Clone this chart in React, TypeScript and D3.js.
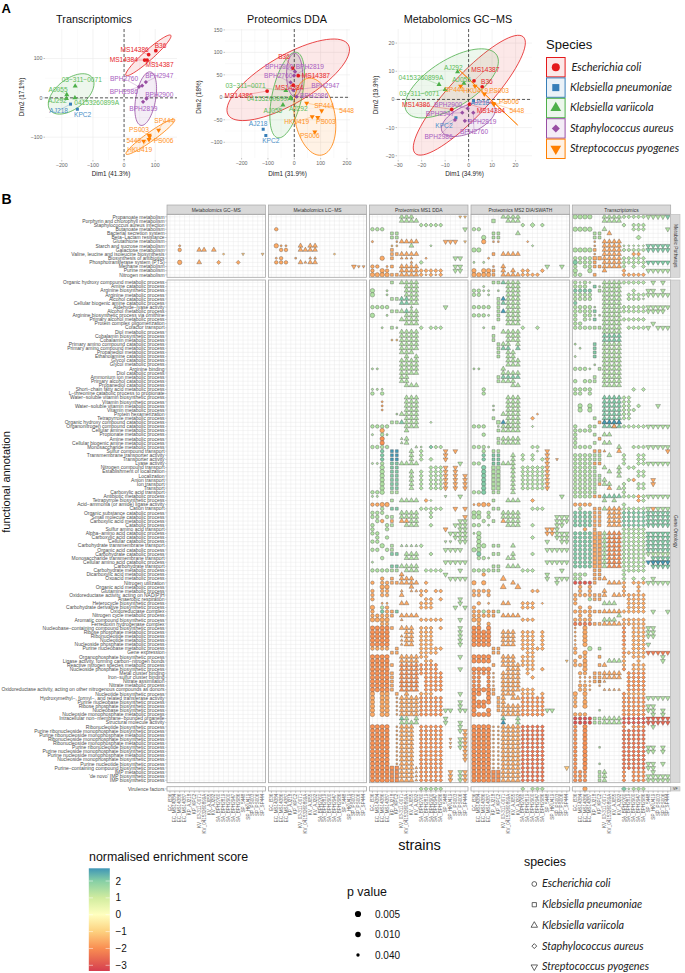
import React from "react";
import * as d3 from "d3";

const strains = ["EC_B36","EC_MS14384","EC_MS14386","EC_MS14387","KP_AJ218","KP_KPC2","KV_03-311-0071","KV_04153260899A","KV_AJ055","KV_AJ292","SA_BPH2760","SA_BPH2819","SA_BPH2900","SA_BPH2947","SA_BPH2986","SP_5448","SP_HKU419","SP_PS003","SP_PS006","SP_SP444"];
const speciesNames = ["Escherichia coli","Klebsiella pneumoniae","Klebsiella variicola","Staphylococcus aureus","Streptococcus pyogenes"];
const speciesColors = ["#e41a1c","#377eb8","#4daf4a","#984ea3","#ff7f00"];
const labelColors = ["#e8262a","#4a8fc8","#5dbb5a","#a85cc0","#ff9326"];
const panelNames = ["Metabolomics GC\u2212MS","Metabolomics LC\u2212MS","Proteomics MS1 DDA","Proteomics MS2 DIA/SWATH","Transcriptomics"];
const pathwayRows = ["Propanoate metabolism","Porphyrin and chlorophyll metabolism","Staphylococcus aureus infection","Butanoate metabolism","Bacterial secretion system","Beta\u2212Lactam resistance","Glutathione metabolism","Starch and sucrose metabolism","Galactose metabolism","Valine, leucine and isoleucine biosynthesis","Biosynthesis of antibiotics","Phosphotransferase system (PTS)","Methane metabolism","Purine metabolism","Nitrogen metabolism"];
const goRows = ["Organic hydroxy compound metabolic process","Amine catabolic process","Arginine biosynthetic process","Arginine metabolic process","Alcohol catabolic process","Cellular biogenic amine catabolic process","Aldehyde\u2212lyase activity","Alcohol metabolic process","Arginine biosynthetic process via ornithine","Primary alcohol metabolic process","Protein complex oligomerization","Cofactor transport","Diol metabolic process","Cobalamin biosynthetic process","Cobalamin metabolic process","Primary amino compound catabolic process","Primary amino compound metabolic process","Propanediol metabolic process","Ethanolamine catabolic process","Glycol catabolic process","Glycol metabolic process","Arginine binding","Diol catabolic process","Ammonium ion metabolic process","Primary alcohol catabolic process","Propanediol catabolic process","Short\u2212chain fatty acid metabolic process","L\u2212threonine catabolic process to propionate","Water\u2212soluble vitamin biosynthetic process","Vitamin biosynthetic process","Water\u2212soluble vitamin metabolic process","Vitamin metabolic process","Protein hexamerization","Tetrapyrrole metabolic process","Organic hydroxy compound catabolic process","Organonitrogen compound catabolic process","Cellular amine metabolic process","Propionate metabolic process","Amine metabolic process","Cellular biogenic amine metabolic process","Monosaccharide metabolic process","Sulfur compound transport","Transmembrane transporter activity","Transporter activity","Lyase activity","Nitrogen compound transport","Establishment of localization","Localization","Anion transport","Ion transport","Transport","Carboxylic acid transport","Antibiotic metabolic process","Tetrapyrrole biosynthetic process","Acid\u2212ammonia (or amide) ligase activity","Cation transport","Organic substance catabolic process","Small molecule catabolic process","Carboxylic acid metabolic process","Catabolic process","Sulfur amino acid transport","Alpha\u2212amino acid catabolic process","Carboxylic acid catabolic process","Cellular catabolic process","Carbohydrate transmembrane transport","Organic acid catabolic process","Carbohydrate catabolic process","Monosaccharide transmembrane transport","Cellular amino acid catabolic process","Carbohydrate transport","Carbohydrate metabolic process","Dicarboxylic acid metabolic process","Oxoacid metabolic process","Nitrogen utilization","Organic acid metabolic process","Glutamine metabolic process","Oxidoreductase activity, acting on NAD(P)H","Anaerobic respiration","Heterocycle biosynthetic process","Carbohydrate derivative biosynthetic process","Oxidoreductase complex","Nitrogen cycle metabolic process","Aromatic compound biosynthetic process","Ferredoxin hydrogenase complex","Nucleobase\u2212containing compound biosynthetic process","Ribose phosphate metabolic process","Ribonucleotide metabolic process","Nucleotide metabolic process","Nucleoside phosphate metabolic process","Purine nucleobase metabolic process","Gene expression","Organophosphate biosynthetic process","Ligase activity, forming carbon\u2212nitrogen bonds","Reactive nitrogen species metabolic process","Nucleoside phosphate biosynthetic process","Metal cluster binding","Iron\u2212sulfur cluster binding","Nitrate assimilation","Nitrate metabolic process","Oxidoreductase activity, acting on other nitrogenous compounds as donors","Nucleotide biosynthetic process","Hydroxymethyl\u2212, formyl\u2212, and related transferase activity","Purine nucleobase biosynthetic process","Ribose phosphate biosynthetic process","Nucleobase biosynthetic process","Nucleoside monophosphate metabolic process","Intracellular non\u2212membrane\u2212bounded organelle","Structural molecule activity","Ribonucleotide biosynthetic process","Purine ribonucleoside monophosphate biosynthetic process","Purine ribonucleoside monophosphate metabolic process","Ribonucleoside monophosphate biosynthetic process","Ribonucleoside monophosphate metabolic process","Purine ribonucleotide biosynthetic process","Purine nucleoside monophosphate biosynthetic process","Purine nucleoside monophosphate metabolic process","Nucleoside monophosphate biosynthetic process","Purine nucleotide biosynthetic process","Purine\u2212containing compound biosynthetic process","IMP metabolic process","'de novo' IMP biosynthetic process","IMP biosynthetic process"];

// PCA scores: [strain label, species index, dim1, dim2, label dim1, label dim2]
type Pt = [string, number, number, number, number, number];
const pcaTranscript: Pt[] = [
["B36",0,102,120,117,132],["MS14386",0,79,110,34,123],["MS14384",0,66,96,-1,97],["MS14387",0,74,96,114,83],
["AJ218",1,-172,-16,-210,-32],["KPC2",1,-150,-29,-133,-43],
["03\u2212311\u22120071",2,-157,30,-136,45],["A0055",2,-184,8,-212,21],["AJ292",2,-185,-2,-214,-6],["04153260899A",2,-158,0,-88,-12],
["BPH2760",3,48,28,0,49],["BPH2986",3,58,31,-1,15],["BPH2947",3,70,40,113,57],["BPH2900",3,72,-2,113,8],["BPH2819",3,61,-10,62,-27],
["SP444",4,111,-82,129,-58],["PS003",4,81,-95,48,-82],["5448",4,63,-110,31,-108],["PS006",4,80,-106,127,-108],["HKU419",4,82,-99,50,-133]];
const pcaProteomics: Pt[] = [
["B36",0,-6,65,-39,91],["MS14387",0,15,48,82,47],["MS14384",0,-4,27,-19,22],["MS14386",0,-103,14,-211,3],
["AJ218",1,-118,-71,-137,-59],["KPC2",1,-108,-85,-89,-97],
["03\u2212311\u22120071",2,-32,15,-185,25],["04153260899A",2,-13,-3,-95,-3],["AJ055",2,-43,-17,-81,-30],["AJ292",2,-13,-1,15,-25],
["BPH2900",3,3,57,-58,69],["BPH2819",3,-1,48,59,69],["BPH2760",3,-14,33,-61,47],["BPH2947",3,-4,16,118,25],["BPH2986",3,9,1.5,75,3],
["SP444",4,104,-30,113,-19],["5448",4,47,-13,199,-30],["HKU419",4,68,-43,9,-55],["PS003",4,89,-45,120,-55],["PS006",4,78,-77,59,-85]];
const pcaMetabolomics: Pt[] = [
["MS14387",0,2.3,6.6,7.1,10.5],["B36",0,5.8,4.5,7.8,6.3],["MS14386",0,-7.2,-3.5,-22.4,-1.7],["MS14384",0,0.4,-1.7,9.5,-4.1],
["AJ218",1,2.1,-0.5,4.8,-1.1],["KPC2",1,-5.4,-6.5,-10.5,-9.2],
["AJ292",2,-4.7,9.8,-6.5,11.3],["04153260899A",2,-12.6,5.3,-20.3,7.8],["AJ055",2,-2,5.7,-3,7.1],["03\u2212311\u22120071",2,-10,3.5,-21,2],
["BPH2900",3,-0.4,-3.2,-8.7,-1.7],["BPH2947",3,-2.7,-4.7,-12.2,-5],["BPH2819",3,-1.6,-7.6,5.8,-7.8],["BPH2760",3,2,-4.7,2.3,-11.3],["BPH2986",3,-5.8,-7.3,-12.8,-13.1],
["SP444",4,-3.4,4.7,-6.1,3.5],["HKU419",4,2.7,4.7,3,3],["PS003",4,6.7,1.9,13,3],["PS006",4,10.8,-1.7,17.2,-0.7],["5448",4,10.5,-1.4,20.5,-4.1]];

// Ellipses: species, centre, major-axis end, minor-axis end (data units)
type El = [number, number, number, number, number, number, number];
const ellTranscript: El[] = [[0,78,108,150,159,89,99],[2,-170,10,-103,52,-140,-19.5],[3,69.5,-2,84.5,66,101,-6],[4,84.5,-99,162.6,-55,93,-108]];
const ellProteomics: El[] = [[0,-23,39,205,117,23,-7.4],[2,-27,5,9,100,28,-2],[3,1.3,50,1,98,32,50],[4,78,-43,116,-126,148,-21]];
const ellMetabolomics: El[] = [[0,0.3,1.5,23.3,22.2,6.7,-3.4],[2,-7.2,5.7,12,15.7,-2,-1.4],[3,-0.1,-7,11.2,-2.8,2,-11.5],[4,8.4,0.7,20.9,-9.1,9.4,-0.1]];

const xTicksT = [-200,-100,0,100]; const yTicksT = [-100,0,100];
const xTicksP = [-200,-100,0,100,200]; const yTicksP = [-100,-50,0,50,100,150];
const xTicksM = [-30,-20,-10,0,10,20]; const yTicksM = [-20,-10,0,10,20];

// Enrichment: [row from, row to, column list, normalised enrichment score, size class 1 big..3 small]
type Bl = [number, number, string, number, number?];
const G = 1.45, T = 2.05, B = 2.7, O = -1.6, D = -1.95, R = -2.9, P = -1.2;

const mpGC: Bl[] = [[7,7,"2",O,3],[8,8,"2",O],[8,8,"6,7,9",O],[9,9,"11,15,19",P,3],[11,11,"2",O,1],[11,11,"6,10,14",O]];
const mpLC: Bl[] = [[3,3,"1",O],[7,7,"1",O,1],[7,7,"2,3",O,3],[7,7,"6,8,9",O],[8,8,"2,3",O],[8,8,"6-9",O],[9,9,"13",P,3],[10,10,"1,5,8,9",O,3],[10,10,"2",O],[11,11,"1-3,6,8,9",O],[11,11,"7",O,3],[12,12,"17",O],[12,12,"18,19",O,3]];
const mpMS1: Bl[] = [[0,0,"6-8",G],[0,0,"18,19",P,3],[1,1,"6-9",G],[2,2,"10-14",G],[3,3,"0-2,19",G],[4,5,"4,5",G],
[6,6,"0,5",O,3],[6,6,"6-9",O],[6,6,"15-17",O],[6,6,"19",P,3],[7,7,"4,5",P,3],[7,7,"8",G],[7,7,"12",G,3],[8,8,"4",O],[9,9,"4,5",O],[9,9,"6-9",O],
[10,10,"2",O,1],[10,10,"4",O],[10,10,"6-8,11",O,3],[10,10,"17,18",G],[11,11,"8",O,3],[11,11,"10",G],[12,12,"0,1,4",O],[12,12,"3",O,3],[12,12,"6-9",O],[12,12,"17,18",G],
[13,13,"0,3",O],[13,13,"2",O,1],[13,13,"6-9",O],[13,13,"10-14",O],[13,13,"17,18",G],[14,14,"0-3",O,1],[14,14,"4,5",O],[14,14,"6-9",O],[14,14,"10,12,14",O],[14,14,"11,13",O,3]];
const mpMS2: Bl[] = [[0,0,"6-9",G],[1,1,"4",G,1],[1,1,"7-9",G],[2,2,"10,14",G],[2,2,"12",G,1],[3,3,"0,1",G],[4,4,"4,5,9",G],[5,5,"2",G,1],[5,5,"4,5",G],[6,6,"2",O,1],[6,6,"4,5",O,3],[6,6,"11",O,3],[7,7,"12",G,3],[8,8,"0,1",G,1],
[9,9,"4",O],[9,9,"6-9",O],[10,10,"3",O,3],[11,11,"0,2",G,3],[12,12,"4",O,3],[12,12,"6",O],[12,12,"15,18",G],[13,13,"0,2,3",O,1],[13,13,"4,6,8",O],[13,13,"10,11,14",O],[14,14,"0-3",O,1],[14,14,"4",O],[14,14,"6-9",O],[14,14,"10-13",O]];
const mpTR: Bl[] = [[0,0,"0-3",G,1],[0,0,"6-9",G],[0,0,"10-14",G],[0,0,"15-18",G],[0,0,"19",T],[1,1,"6-9",G],[2,2,"10,12-14",G],[3,3,"0-3",G,1],[3,3,"6",G],[3,3,"12-14",G],[3,3,"19",G],
[4,4,"4,5",G],[4,4,"7",O],[5,5,"4,5",G],[5,5,"13",G,1],[6,6,"4",O,3],[6,6,"6-9",O],[7,7,"4",O,3],[7,7,"6-9",O],[7,7,"10-14",G,3],[7,7,"15-19",T],
[8,8,"0-3",G,1],[8,8,"4",O],[8,8,"6-9",O],[8,8,"10-14",G],[8,8,"15-19",T],[9,9,"4",O,3],[9,9,"6-9",O],[9,9,"12,13",O],[10,10,"0-3",G],[10,10,"4,5",O,1],[10,10,"6-9",O],[10,10,"10-14",G],
[11,11,"0",T,1],[11,11,"1-3",G],[11,11,"4",O],[11,11,"6-9",O],[11,11,"10-14",G],[11,11,"15-19",T],[12,12,"0,2,3",G],[12,12,"4,5",O],[12,12,"6-9",O],[12,12,"10,12,14",G],
[13,13,"0,3",G,1],[13,13,"6",O],[13,13,"10",O],[13,13,"15-19",G],[14,14,"0,1",G],[14,14,"4",O],[14,14,"10-14",O]];

const goMS1: Bl[] = [[0,0,"4,6-9",G],[1,3,"7-9",G],[2,3,"0",G,1],[2,3,"3",G,3],[4,4,"4,5",G],[4,5,"6,7",T],[4,5,"8,9",G],[6,6,"0-3",G],[6,6,"8",G,3],[6,6,"15",G],
[7,7,"4,5",G],[7,7,"6,8,9",G],[7,7,"7",T],[8,8,"0",G,1],[8,8,"3",G,3],[8,8,"7-9",G],[9,9,"6-9",G],[10,10,"7-9",G],[11,11,"2,5",G,3],[11,11,"4,10,12-14",G],
[12,16,"6-9",G],[14,14,"4,5",P,3],[17,17,"6-8",G],[18,18,"7,9",G],[19,20,"6-9",G],[21,21,"0,1",G,3],[21,22,"6-9",G],[23,24,"6,7",G],[25,25,"7-9",G],[26,26,"0-2",G,3],
[27,27,"0,2",G],[28,35,"7-9",G],[29,31,"2",O,3],[32,32,"5",G,3],[32,32,"6",G],[34,34,"4,5",G],[34,34,"6",T],[34,34,"12",G,3],[35,35,"0,1,3",G],[35,35,"2",G],[36,36,"2",O,1],[36,36,"7",G],[37,37,"0,3",G,3],[37,37,"2",G],[38,39,"2",D,1],[38,39,"6",G,3],[38,39,"7",G],
[40,40,"0-3",G],[40,40,"9,10",G,3],[40,40,"12",T],[40,40,"13,14",G],[41,41,"2",T],[41,43,"4,5",B],[41,43,"8,10",G],[41,41,"15,17",O],[42,43,"2",T],[42,43,"15",O],[43,43,"12",G],
[44,44,"0,1",G,3],[44,44,"2",G],[44,44,"4,5",T],[44,44,"6-9",G],[44,44,"18",G],[45,51,"2",G,1],[45,50,"4,5",T],[45,50,"12-14",G],[45,50,"15,17",O],[46,50,"8",G],[46,50,"10",G],[47,50,"19",O],[51,51,"0,1",G],[51,51,"4,5",G],
[52,52,"0,1",G,3],[52,52,"15",G,3],[52,52,"18",G],[53,53,"4",G],[53,53,"6-9",G],[53,53,"11",O],[53,53,"12",G,3],[54,54,"0,1",O],[54,54,"2,3",O,1],[55,55,"2",G],[55,55,"4,5",T],[55,55,"10-14",G],[55,55,"17,19",O],
[56,56,"0,1,2",G],[56,56,"6-9",G],[56,56,"12",G],[57,57,"0,1,3,4",G],[57,57,"6-9",G],[57,57,"12",G],[57,57,"19",O],[58,58,"1",G],[58,58,"2",O],[58,58,"4",O],[58,58,"6,7",O],[58,58,"8,9",G],[58,58,"18,19",G],
[59,59,"0,3,4",G],[59,59,"7-9",G],[59,59,"12",G],[59,59,"17-19",G],[60,60,"0,3",G],[60,60,"15",O],[60,60,"18,19",G],[61,61,"0,1",G],[61,61,"16-19",G],[62,62,"1,3",G],[62,62,"17-19",G],[63,63,"0,1",G],[63,63,"15,16",G,3],[63,63,"18,19",G],
[64,64,"2",G,1],[64,64,"4",G],[64,64,"6-9",G,3],[64,64,"10",G],[65,65,"0,1,3,4",G],[65,65,"15-18",G],[66,66,"4,5",T],[66,66,"7-9",G],[66,66,"12",G],[67,67,"2",G],[67,67,"7-9",G],[68,68,"0",G,3],[68,68,"15-19",G],[69,69,"4,5",T],[69,69,"6-9",G],
[70,70,"0-3",G],[70,70,"4,5",G],[70,70,"7-9",G],[70,70,"11-14",G],[70,70,"18",G],[71,71,"6",O],[71,71,"15",G],[72,72,"2",O],[72,72,"4",O],[72,72,"6-8",O],[72,72,"16-19",G],[73,73,"0,2,3",O],[73,73,"4,5",O],[73,73,"6-9",O],[73,73,"11",O],[74,74,"2,3",O,1],[74,74,"8",O],
[75,75,"0,2,3",O],[75,75,"6,8,9",O,3],[75,75,"10,11,13,14",O],[76,76,"0,2,3",O],[76,76,"6",O],[76,76,"10",O],[77,77,"0",O],[77,77,"11,12,14",O],[77,77,"18",G],[78,78,"2,3",O,3],[78,78,"6,7",O],[78,78,"10-12",O],[78,78,"18",G],[79,79,"0",O,1],[79,79,"2",G],[79,79,"3",O],[79,79,"10-12",O],[79,79,"17,19",G],
[80,80,"0,3",O],[80,80,"2",T],[80,80,"4",O],[80,80,"5",T],[81,81,"0-3",O],[81,81,"4",O],[81,81,"6-9",O],[82,82,"0-3",O,1],[82,82,"6",O,3],[82,82,"10-14",O],[82,82,"18",G],[83,83,"2,3",O],[84,84,"0-3",D,1],[84,84,"4",O],[84,84,"6-8",O],[84,84,"10-12,14",O],[84,84,"18",G],
[85,88,"0-3",D,1],[85,88,"7,8",O],[85,88,"10-12",O],[85,88,"18",G],[86,88,"6",O,3],[89,89,"0-3",O],[89,89,"5",O],[89,89,"10-14",O],[90,90,"4,5",O],[90,90,"10-13",O],[91,94,"0-3",D,1],[91,92,"6-9",O],[91,91,"10,11",O],[91,91,"18",G],[92,92,"11,12",O],[93,94,"6-9",D],[93,94,"10-13",D],[93,93,"4",O],[94,94,"18",G],
[95,99,"0-3",D,1],[95,99,"4",O],[95,99,"6-9",D],[95,99,"11-14",D],[95,95,"10",D],[100,100,"0,2,3",O,1],[100,100,"5",O],[100,100,"7",O],[100,100,"10-12",O],[100,100,"18",G],[101,105,"0,2,3",O,1],[101,105,"5",O,3],[101,105,"6-9",O],[101,105,"10-14",D],[102,103,"18",G],[104,104,"15,16",G],[104,104,"18,19",G],
[106,106,"6",T],[106,106,"7,9",G],[106,106,"15",G],[107,107,"6,7,9",G],[107,107,"8",G],[107,107,"15,18",G],
[108,121,"0-3",D,1],[108,121,"5",O,3],[108,121,"6-8",O],[108,121,"10-14",D],[108,109,"18",G],[109,116,"19",O],[111,113,"16",O,3],[111,113,"18",G],[118,121,"4,5",D,1],[118,121,"9",O,3],[119,121,"16",O],[119,121,"18",G],[119,121,"19",O]];

const goMS2: Bl[] = [[0,0,"4,5",G],[0,0,"6",T],[0,0,"7-9",G],[1,1,"2",G,3],[1,3,"7-9",G],[2,3,"0,1",G],[2,2,"2,3,5",G,3],[3,3,"3",G,3],[4,5,"5",G],[4,4,"6",B],[5,5,"6",T],[4,5,"7-9",G],[6,6,"0-3",G],[6,6,"5",G],[6,6,"7-9",G],[7,7,"5",G],[7,7,"6",B],[7,7,"7-9",G],
[8,8,"0-2",G],[8,8,"3",G,3],[8,8,"5",G],[8,8,"7-9",G],[9,9,"5",G],[9,9,"7-9",G],[10,10,"7-9",G],[11,11,"2",G,3],[11,11,"4,10,13",G],[12,12,"6-9",G],[13,14,"4",G],[13,14,"7-9",G],[15,15,"5",G],[15,15,"6,7,9",G],[16,16,"5",G],[16,16,"6,7,9",T],[17,18,"5",G],[17,18,"7,8",G],[19,20,"7-9",G],[21,21,"0,1",G,3],[21,21,"6",G],[22,22,"6-9",G],[23,23,"5",G],[23,23,"6-9",T],[24,24,"5",G],[24,24,"6-8",G],[25,25,"8,9",G],[26,27,"2",G],
[28,35,"7-9",G],[30,31,"4",G,3],[32,32,"6",G],[32,32,"13",O,3],[33,33,"4",G],[33,33,"12",O],[34,34,"5",G,1],[34,34,"6",B],[35,35,"0-2",G],[35,35,"5",G,3],[35,35,"6,7",G],[35,35,"12",G,3],[36,36,"5",G],[36,36,"6-9",G],[37,37,"2",G],[38,39,"5",G],[38,39,"6-9",G],
[40,40,"0-2",G],[40,40,"3",G,3],[40,40,"12,13",G],[41,41,"2",G],[41,41,"4,5",G],[41,41,"13",G,3],[41,41,"15",O],[42,43,"2",T],[42,43,"4,5",T],[42,43,"8,10,12",G],[42,43,"15",O],[43,43,"14",G],[43,43,"17",O,3],[44,44,"0,1",G],[44,44,"4,5",T],[44,44,"6,7,8",G],[44,44,"15",O],[45,50,"2",T,1],[45,50,"4,5",G,1],[45,50,"8",G],[45,50,"10-14",G],[45,50,"15",O],[51,51,"0,1",G],[51,51,"2",T,1],[51,51,"4,5",G],[51,51,"8",G],
[52,52,"18",G],[53,53,"4",G],[53,53,"7-9",G],[53,53,"12",O],[54,54,"0",O,3],[54,54,"1",O],[54,54,"2",O,1],[54,54,"3",O],[55,55,"4,5",G],[55,55,"12-14",G],[56,56,"0,1",G,1],[56,56,"3",G],[56,56,"6-9",G],[57,57,"0,1",G,1],[57,57,"3",G],[57,57,"6-9",G],[57,57,"17-19",G],[58,58,"2",G],[58,58,"4",G],[58,58,"6",O],[58,58,"7-9",G],[58,58,"17-19",G],[59,59,"0,1",G],[59,59,"3",G,3],[59,59,"7-9",G],[59,59,"12",G],[59,59,"17,18",G],
[60,60,"15,16",O],[60,60,"17",G],[61,61,"0",G,3],[61,61,"1",G,1],[61,61,"15,16",O],[61,61,"17-19",G],[62,62,"1",G,1],[62,62,"12",G],[62,62,"17-19",G],[63,63,"1",G,1],[63,63,"15",G],[63,63,"18,19",G],[64,64,"1,2",G,1],[64,64,"4,5",G],[64,64,"8",G],[65,65,"0,1",G,1],[65,65,"15-19",G],[66,66,"1",T,1],[66,66,"4,5",G],[66,66,"8",G],[66,66,"12",G],[67,67,"1,2",G],[67,67,"3",G,3],[67,67,"7,8",G],[68,68,"15-19",G],[69,69,"4,5",G],[69,69,"7-9",G],
[70,70,"0-3",G],[70,70,"4,5",G],[70,70,"10-12",G],[70,70,"18",G],[71,71,"2",O],[71,71,"15",G],[72,72,"6",O,1],[72,72,"15",G],[72,72,"17-19",G],[73,73,"0,2",O,1],[73,73,"8",O],[73,73,"17",G],[74,74,"6,9",O,1],
[75,75,"0-3",O],[75,75,"12,13",O],[76,76,"0,1,3",O],[78,78,"1",O],[78,78,"3",O,3],[78,78,"6,7",O],[78,78,"10-12",O],[78,78,"14",O,3],[79,79,"0",O],[79,79,"10-12",O],[80,80,"0,1,3",O],[80,80,"2",G],[80,80,"4",O],[80,80,"5",G],[81,81,"0-3",O],[81,81,"4",O],[81,81,"6-9",O],[82,82,"0,1",O,1],[82,82,"10-12",O],[83,83,"1,3",O],
[84,84,"0,1,3",D,1],[85,88,"0-3",D,1],[85,88,"6-8",O],[85,88,"10-12",O],[85,88,"14",O],[89,89,"4,5",O],[89,89,"10-14",O],[90,90,"4,5",O],[90,90,"11,12",O],[91,92,"0-3",D,1],[91,92,"6-8",O],[91,92,"10-12",O],[92,92,"19",P,3],[93,93,"4",O],[93,93,"6-9",O],[93,93,"10-12",O],[94,94,"0-3",D,1],[94,94,"7-9",O],[94,94,"11,12",O],[94,94,"14",O],
[95,95,"0-3",D],[95,95,"4",O,3],[95,95,"6-9",O],[95,95,"11",O],[96,96,"0,1,3",D],[96,96,"4",O,3],[96,96,"6-9",O],[96,96,"12",O],[97,98,"0,1,3",D],[97,98,"4",O,3],[97,98,"6-9",O],[99,99,"0-3",D,1],[99,99,"4",O],[99,99,"6-9",O],[99,99,"10-12",O],[100,100,"0,1,3",D,1],[100,100,"4",O],[100,100,"6-8",O],[100,100,"10-12",O],[100,100,"14",O],
[101,101,"0,3",D,1],[101,101,"5",O],[101,101,"6,8,9",O],[101,101,"10-14",D],[102,102,"0-3",D,1],[102,102,"5",O],[102,102,"6",O],[102,102,"10-14",D],[103,103,"0-2",D,1],[103,103,"5",O],[103,103,"6-9",O],[103,103,"10-14",D],[104,104,"0,3",D,1],[104,104,"5",O],[104,104,"6-9",O],[104,104,"10-14",D],[104,104,"15,16",G],[105,105,"0-3",D,1],[105,105,"6-9",O],[105,105,"10-14",D],
[106,106,"6",T],[106,106,"9",G],[107,107,"6",B],[107,107,"9",G],
[108,121,"0-3",D,1],[108,118,"4,5",O,3],[108,121,"6-9",O],[108,121,"10-14",-2.4],[118,118,"19",P],[119,121,"4,5",D,1]];

const goTR: Bl[] = [[0,0,"0,2",G],[0,0,"1,3",G,3],[0,0,"6-9",G],[0,0,"10-14",G],[0,0,"16,18",G],[1,1,"0-2",G],[1,1,"4",T],[1,1,"5",G,3],[1,3,"6-9",G],[2,2,"0-3",T],[2,2,"5",G],[2,2,"12",G],[2,2,"15,16,18",G],[3,3,"0-3",G],[3,3,"11-14",G],[3,3,"15-19",G],[4,4,"0-3",G],[4,4,"6-9",G],[4,4,"11-13",G],[4,4,"14",G,3],[5,5,"0",T],[5,5,"6-9",G],
[6,6,"0-3",G],[6,6,"4",G,3],[6,7,"6-9",G],[6,7,"10-14",G],[6,6,"15-19",G],[7,7,"0-3",G],[7,7,"4",T],[7,7,"15-18",G],[8,8,"0,2,3",G],[8,8,"4,5",G,3],[8,9,"6-9",G],[9,9,"0,2",G],[9,9,"3",G,3],[9,9,"4",T],[9,9,"10-14",G],[10,10,"0,1",G],[10,10,"6-9",G],[10,10,"16",G],[11,11,"0-3",G],[11,11,"4,5",G],[11,11,"6-9",G],[11,11,"11-14",G],[11,11,"15",G],[11,11,"17-19",G],
[12,12,"6-9",G],[13,14,"6-9",T],[15,15,"0",G,3],[15,16,"4",T],[15,20,"6-9",G],[16,16,"1",G,3],[17,17,"4",T],[18,18,"0",G,3],[18,18,"4",T],[20,20,"4",G,3],[21,21,"0-2",G],[21,21,"3",G,3],[21,21,"5",G],[21,25,"6-9",G],[23,23,"4",G],[24,24,"0,2,3",G],[24,24,"4",G],[26,26,"0-3",G],[26,26,"12,14",G],[27,27,"0,1,3",G],
[28,35,"6-9",T],[28,33,"10,11",G],[30,31,"1,3",G,1],[30,30,"13",G],[30,30,"17",G],[31,31,"12",G],[33,33,"4",G],[34,34,"5",O],[34,34,"6-9",B],[35,35,"0,3,4",G],[35,35,"8",O],[35,35,"10-14",G],[35,35,"15-19",G],[36,36,"0-3",G],[37,37,"0,4",G],[37,37,"6,7",G],[38,38,"0",G],[38,38,"5",O],[39,39,"0,4",G],[39,39,"6,7",G],
[40,40,"0-3",G],[40,40,"9",G],[40,40,"12-14",G],[40,40,"15-19",G],[41,41,"4,5",O],[41,41,"6",O,3],[41,41,"9",O],[41,41,"19",O],[42,43,"0-3",G],[42,43,"4,5",G],[42,42,"7",G],[42,44,"10",G],[42,44,"13,14",G],[44,44,"0-3",G],[44,44,"4,5",O],[44,44,"15-19",G],[45,47,"0-3",G],[45,45,"4",G],[45,45,"6",G],[45,47,"9",G],[45,45,"11,12",G],[46,46,"4",G],[46,46,"7",G],[46,47,"13,14",G],[47,47,"4,5",G],
[48,48,"0-3",G],[48,48,"4,5",G],[48,49,"6",G],[48,48,"11",G],[48,48,"12",O],[48,48,"16",O],[49,50,"0-3",G],[49,50,"4",G],[49,49,"5",O],[49,49,"7",G],[49,49,"10",G],[49,50,"13,14",G],[49,49,"16",O],[50,50,"7",O],[50,50,"9,10",G],[51,51,"0-3",G],[51,51,"4",G],[51,51,"10",G],[52,52,"0-3",G],[52,52,"4,5",O],[52,52,"6-9",T],[52,52,"10-12,14",G],[52,52,"13",O],[52,52,"15-19",G],
[53,53,"6,8",G],[53,53,"13",O],[53,53,"14",G],[54,54,"0-3",O],[54,54,"10",G],[55,55,"1",G],[55,55,"4,5",O],[55,55,"6",G],[55,55,"7-9",O],[55,55,"10-14",G],[55,55,"16",O],[55,55,"15,17-19",G],
[56,59,"0-3",T],[56,59,"4,5",O],[56,59,"7-9",O],[56,59,"10-14",T],[56,59,"15-19",T],[60,60,"2",O],[60,60,"4",O],[60,60,"10-14",G],[61,69,"0-3",T],[61,69,"4,5",O,1],[61,69,"6",G],[61,69,"7-9",D],[61,69,"10-14",G],[61,65,"15-19",T],[66,66,"15-19",G],[67,69,"16-19",T],[68,68,"15-19",B],[70,70,"4,5",O],[70,70,"10-14",G],
[71,71,"0-2",G],[71,71,"4,5",O],[71,71,"10",G],[72,72,"0,1",G],[72,72,"4,5",O],[72,72,"6",O],[72,72,"10,12,14,16",G],[73,73,"0-3",R],[73,73,"4",O],[73,73,"7-9",O],[73,73,"10",O],[73,73,"12-14",O],[73,73,"15-19",G],[74,74,"1,3",O],[74,74,"10,13",O],
[75,75,"1,3",O],[75,75,"6",O],[75,75,"10,13",O],[76,76,"0-3",O],[76,76,"4,5",O],[76,76,"6",O],[76,76,"8,9",O],[76,76,"10-14",O],[77,77,"0",O],[77,77,"3",G],[77,77,"4,5",O],[77,79,"11-14",O],[78,78,"0",O],[78,78,"6-8",G],[79,79,"1,3",O],[80,80,"0-3",O],[80,80,"4,5",O],[80,80,"6-9",O],[80,80,"10-14",O],[80,80,"16,19",G],[81,81,"1,3",O],[81,81,"9",G],[82,82,"0-3",O],[82,82,"6-8",G],[82,82,"10-14",O],
[83,83,"0-3",-2.3],[83,83,"4,5",O],[83,83,"6,7",O],[83,83,"8,9",O],[83,83,"10-14",O],[84,88,"0",O,3],[84,88,"2",O,1],[84,88,"10",D],[84,88,"12-14",O],[84,86,"15,16",G],[88,88,"15",G],[89,89,"0",O],[89,89,"3",G,1],[89,89,"5",G],[89,89,"10",O],[89,89,"12-14",O],[90,90,"0",O],[90,90,"2",O,1],[90,90,"10",D],[90,90,"11-14",O],[90,90,"15-19",-2.3],[91,91,"1,2",O],[91,91,"5",O],[91,91,"10",O],[91,91,"12-14",O],[91,91,"18",G],
[92,92,"0",O],[92,92,"2",O,1],[92,92,"7-9",G],[92,92,"10",O],[92,92,"13",O],[92,92,"18",G],[93,93,"0,1",O],[93,93,"2",O,1],[93,93,"5,6",O],[93,93,"10",O],[93,93,"12-14",O],[94,94,"2",O,1],[94,94,"10",D],[94,94,"12-14",O],[95,95,"1,2",O],[95,95,"4,5",O],[95,95,"6-9",O],[95,99,"11-14",D],[96,97,"1-3",O,3],[96,97,"4,5",O],[96,96,"6-9",O],[97,97,"5,6",O,3],[98,99,"1,2",O],[98,99,"3",O,3],[98,98,"5",O,3],[99,99,"6-9",O,3],
[100,100,"0,2",O,1],[100,100,"10",D],[100,100,"11-14",O],[101,101,"0,2",O],[101,101,"10",D],[101,101,"11-14",D],[101,101,"15-19",G],[102,102,"0",O],[102,102,"2",O,1],[102,102,"10-14",D],[103,103,"0",O],[103,103,"2",O,1],[103,103,"10-14",D],[103,103,"15,16",G],[104,104,"5",G,3],[104,104,"10-14",D],[104,104,"15,16",G],[104,104,"18",G],[105,105,"0-2",O],[105,105,"10-14",D],[105,105,"16,18",G],
[106,107,"0-3",-3],[106,107,"4,5",G],[106,107,"6-9",G],[106,107,"10-14",-2.8],[106,107,"15-19",-2.7],[108,108,"0",D],[108,108,"2",D,1],[108,108,"10",D],[108,108,"12-14",D],[108,108,"16",G],[109,118,"0",D],[109,118,"2",D,1],[109,118,"10",-2.4],[109,118,"11-14",-2.4],[113,113,"5",G,3],[113,114,"15,16",G],[113,114,"18",G],[117,117,"5",G,3],[117,118,"15,16",G],[117,117,"18",G],
[119,119,"0-2",D],[119,119,"5,6",G],[119,119,"10",D],[119,119,"12-14",D],[119,119,"16",G],[120,121,"0-2",D],[120,121,"5,6",G],[120,121,"10",D],[120,121,"12-14",D],[120,121,"15-19",G]];

const vfMS1: Bl[] = [[0,0,"10-14",G]];
const vfMS2: Bl[] = [[0,0,"10,12-14",G]];
const vfTR: Bl[] = [[0,0,"2",O,1],[0,0,"10",T,1],[0,0,"11",G,3],[0,0,"12-14",G]];

const mpData = [mpGC, mpLC, mpMS1, mpMS2, mpTR];
const goData: Bl[][] = [[], [], goMS1, goMS2, goTR];
const vfData: Bl[][] = [[], [], vfMS1, vfMS2, vfTR];

const nesStops = [-3.35,-2,-1,0,1,2,2.75];
const nesColors = ["#d53e4f","#f98e52","#fdd17f","#ffffbf","#d1ec9f","#86cfa5","#3f96b7"];
const nesScale = d3.scaleLinear<string>().domain(nesStops).range(nesColors);
const nesTicks = [2,1,0,-1,-2,-3];
const pLegend = ["0.005","0.010","0.040"];
const sizeArea = [0, 16, 10.5, 3.6];

function shapePath(spec: number, area: number): string {
  const types = [d3.symbolCircle, d3.symbolSquare, d3.symbolTriangle, d3.symbolSquare, d3.symbolTriangle];
  return d3.symbol().type(types[spec]).size(area)() as string;
}
const turn = (sp: number) => (sp === 4 ? " rotate(180)" : sp === 3 ? " rotate(45)" : "");
const speciesOf = (c: number) => (c < 4 ? 0 : c < 6 ? 1 : c < 10 ? 2 : c < 15 ? 3 : 4);
function expand(blocks: Bl[]) {
  const out: { r: number; c: number; nes: number; s: number }[] = [];
  blocks.forEach(([r0, r1, cols, nes, s]) => {
    cols.split(",").forEach((part) => {
      const [a, b] = part.split("-").map(Number);
      for (let c = a; c <= (b ?? a); c++) for (let r = r0; r <= r1; r++) out.push({ r, c, nes, s: s ?? 2 });
    });
  });
  return out;
}
const FONT = "'Liberation Sans', Arial, sans-serif";

function Pca({ title, titleX, pts, ells, xd, xr, yd, yr, xt, yt, xLab, yLab, yLabX, yLabY }: any) {
  const x = d3.scaleLinear().domain(xd).range(xr);
  const y = d3.scaleLinear().domain(yd).range(yr);
  const line = d3.line<[number, number]>().x((d) => x(d[0])).y((d) => y(d[1]));
  const minorOf = (t: number[]) => t.slice(1).map((v, i) => (v + t[i]) / 2);
  const xm = minorOf(xt), ym = minorOf(yt);
  return (
    <g fontFamily={FONT}>
      {xm.map((v: number) => <line key={"xm" + v} x1={x(v)} x2={x(v)} y1={yr[1]} y2={yr[0]} stroke="#f4f4f4" strokeWidth={0.5} />)}
      {ym.map((v: number) => <line key={"ym" + v} y1={y(v)} y2={y(v)} x1={xr[0]} x2={xr[1]} stroke="#f4f4f4" strokeWidth={0.5} />)}
      {xt.map((v: number) => <line key={"xg" + v} x1={x(v)} x2={x(v)} y1={yr[1]} y2={yr[0]} stroke="#ebebeb" strokeWidth={0.6} />)}
      {yt.map((v: number) => <line key={"yg" + v} y1={y(v)} y2={y(v)} x1={xr[0]} x2={xr[1]} stroke="#ebebeb" strokeWidth={0.6} />)}
      {ells.map(([sp, cx, cy, ax, ay, bx, by]: El, i: number) => {
        const coords = d3.range(0, 73).map((k) => {
          const t = (k / 72) * 2 * Math.PI;
          return [cx + (ax - cx) * Math.cos(t) + (bx - cx) * Math.sin(t), cy + (ay - cy) * Math.cos(t) + (by - cy) * Math.sin(t)] as [number, number];
        });
        return <path key={i} d={line(coords) as string} fill={speciesColors[sp]} fillOpacity={0.1} stroke={speciesColors[sp]} strokeWidth={0.8} />;
      })}
      <line x1={x(0)} x2={x(0)} y1={yr[1]} y2={yr[0]} stroke="#333" strokeWidth={0.8} strokeDasharray="3 2" />
      <line y1={y(0)} y2={y(0)} x1={xr[0]} x2={xr[1]} stroke="#333" strokeWidth={0.8} strokeDasharray="3 2" />
      {xt.map((v: number) => (
        <g key={v}>
          <line x1={x(v)} x2={x(v)} y1={yr[0]} y2={yr[0] + 1.5} stroke="#666" strokeWidth={0.4} />
          <text x={x(v)} y={yr[0] + 6.8} fontSize={5.3} fill="#666" textAnchor="middle">{String(v).replace("-", "\u2212")}</text>
        </g>
      ))}
      {yt.map((v: number) => (
        <g key={v}>
          <line y1={y(v)} y2={y(v)} x1={xr[0] - 1.5} x2={xr[0]} stroke="#666" strokeWidth={0.4} />
          <text x={xr[0] - 2.5} y={y(v) + 1.9} fontSize={5.3} fill="#666" textAnchor="end">{String(v).replace("-", "\u2212")}</text>
        </g>
      ))}
      {pts.map(([n, sp, a, b, la, lb]: Pt) => {
        const far = Math.hypot(x(a) - x(la), y(b) - y(lb)) > 9;
        return far ? <line key={"s" + n} x1={x(a)} y1={y(b)} x2={x(la)} y2={y(lb)} stroke={speciesColors[sp]} strokeWidth={0.3} /> : null;
      })}
      {pts.map(([n, sp, a, b]: Pt) => (
        <path key={"p" + n} d={shapePath(sp, sp === 1 ? 9 : sp === 3 ? 9 : 11)} fill={speciesColors[sp]} transform={`translate(${x(a)},${y(b)})${turn(sp)}`} />
      ))}
      {pts.map(([n, sp, , , la, lb]: Pt) => (
        <text key={"l" + n} x={x(la)} y={y(lb) + 2.3} fontSize={6.6} fill={labelColors[sp]} textAnchor="middle">{n}</text>
      ))}
      <text x={titleX} y={22.5} fontSize={10.8} fill="#111" textAnchor="middle">{title}</text>
      <text x={(xr[0] + xr[1]) / 2} y={175.5} fontSize={6.3} fill="#222" textAnchor="middle">{xLab}</text>
      <text transform={`translate(${yLabX},${yLabY}) rotate(-90)`} fontSize={6.3} fill="#222" textAnchor="middle">{yLab}</text>
    </g>
  );
}

const panelX: [number, number][] = [[167,265.5],[268.5,366.5],[369.5,468],[471,569.7],[572.3,670.7]];
const facets = [
  { y0: 214.3, y1: 277.3, rows: pathwayRows, data: mpData, strip: "Metabolic Pathways" },
  { y0: 280, y1: 782.7, rows: goRows, data: goData, strip: "Gene Ontology" },
  { y0: 786.7, y1: 791, rows: ["Virulence factors"], data: vfData, strip: "VF" },
];

function Heat() {
  return (
    <g fontFamily={FONT}>
      {panelNames.map((p, i) => (
        <g key={p}>
          <rect x={panelX[i][0]} y={205} width={panelX[i][1] - panelX[i][0]} height={9.3} fill="#d9d9d9" stroke="#a6a6a6" strokeWidth={0.7} />
          <text x={(panelX[i][0] + panelX[i][1]) / 2} y={211.6} fontSize={4.9} fill="#333" textAnchor="middle">{p}</text>
        </g>
      ))}
      {facets.map((f, fi) => {
        const y = d3.scalePoint<number>().domain(d3.range(f.rows.length)).range([f.y0, f.y1]).padding(0.6);
        const yPos = (r: number) => (f.rows.length === 1 ? (f.y0 + f.y1) / 2 : (y(r) as number));
        return (
          <g key={fi}>
            {f.rows.map((n, r) => (
              <g key={n + r}>
                <text x={164.6} y={yPos(r) + 1.75} fontSize={4.95} fill="#4d4d4d" textAnchor="end">{n}</text>
                <line x1={165} x2={167} y1={yPos(r)} y2={yPos(r)} stroke="#555" strokeWidth={0.3} />
              </g>
            ))}
            {panelNames.map((p, i) => {
              const x = d3.scalePoint<number>().domain(d3.range(20)).range(panelX[i]).padding(0.6);
              return (
                <g key={p}>
                  {d3.range(20).map((c) => <line key={c} x1={x(c)} x2={x(c)} y1={f.y0} y2={f.y1} stroke="#e6e6e6" strokeWidth={0.4} />)}
                  {fi < 2 && f.rows.map((_, r) => <line key={r} x1={panelX[i][0]} x2={panelX[i][1]} y1={yPos(r)} y2={yPos(r)} stroke="#e6e6e6" strokeWidth={0.4} />)}
                  {expand(f.data[i]).map((d, k) => {
                    const sp = speciesOf(d.c);
                    return <path key={k} d={shapePath(sp, sizeArea[d.s] * (sp === 1 || sp === 3 ? 0.8 : 1))} fill={nesScale(d.nes)} stroke="#3a3a3a" strokeWidth={0.3}
                      transform={`translate(${x(d.c)},${yPos(d.r)})${turn(sp)}`} />;
                  })}
                  <rect x={panelX[i][0]} y={f.y0} width={panelX[i][1] - panelX[i][0]} height={f.y1 - f.y0} fill="none" stroke="#a6a6a6" strokeWidth={0.8} />
                  {fi === 2 && strains.map((s, c) => (
                    <g key={s}>
                      <line x1={x(c)} x2={x(c)} y1={791} y2={793} stroke="#555" strokeWidth={0.3} />
                      <text transform={`translate(${(x(c) as number) + 1.6},793.6) rotate(-90)`} fontSize={4.6} fill="#666" textAnchor="end">{s}</text>
                    </g>
                  ))}
                </g>
              );
            })}
            <rect x={670.7} y={f.y0} width={9.3} height={f.y1 - f.y0} fill="#d9d9d9" stroke="#bdbdbd" strokeWidth={0.6} />
            {fi < 2 ? (
              <text transform={`translate(674,${(f.y0 + f.y1) / 2}) rotate(90)`} fontSize={4.9} fill="#333" textAnchor="middle">{f.strip}</text>
            ) : (
              <text x={675.3} y={790.3} fontSize={3.6} fill="#333" textAnchor="middle">{f.strip}</text>
            )}
          </g>
        );
      })}
    </g>
  );
}

export default function App() {
  const barY = d3.scaleLinear().domain([2, -3]).range([881, 965.3]);
  return (
    <svg width={685} height={973} viewBox="0 0 685 973" style={{ position: "absolute", left: 0, top: 0, background: "#fff" }}>
      <text x={1.5} y={13} fontFamily={FONT} fontWeight="bold" fontSize={13} fill="#000">A</text>
      <text x={1.5} y={204} fontFamily={FONT} fontWeight="bold" fontSize={14} fill="#000">B</text>
      <Pca title="Transcriptomics" titleX={94} pts={pcaTranscript} ells={ellTranscript} xd={[-254,170]} xr={[45,177]} yd={[-158,175]} yr={[160,29]} xt={xTicksT} yt={yTicksT} xLab="Dim1 (41.3%)" yLab="Dim2 (17.1%)" yLabX={24} yLabY={97} />
      <Pca title="Proteomics DDA" titleX={287} pts={pcaProteomics} ells={ellProteomics} xd={[-263,211.5]} xr={[225,350]} yd={[-135,152]} yr={[158,29]} xt={xTicksP} yt={yTicksP} xLab="Dim1 (31.9%)" yLab="Dim2 (18%)" yLabX={201} yLabY={97} />
      <Pca title={"Metabolomics GC\u2212MS"} titleX={458} pts={pcaMetabolomics} ells={ellMetabolomics} xd={[-30.5,27]} xr={[397,532]} yd={[-21.5,25]} yr={[160,29]} xt={xTicksM} yt={yTicksM} xLab="Dim1 (34.9%)" yLab="Dim2 (19.9%)" yLabX={378} yLabY={95} />

      <text x={546} y={49} fontFamily={FONT} fontSize={13} fill="#111">Species</text>
      {speciesNames.map((s, i) => {
        const top = 57.5 + i * 20.4;
        return (
          <g key={s}>
            <rect x={546.5} y={top} width={18.6} height={19.4} fill={speciesColors[i]} fillOpacity={0.1} stroke={speciesColors[i]} strokeWidth={1} />
            <path d={shapePath(i, i === 3 ? 32 : 50)} fill={speciesColors[i]} transform={`translate(555.8,${top + 9.7})${turn(i)}`} />
            <text x={i === 0 ? 571.5 : 570} y={top + 13} fontFamily="Lato, sans-serif" fontStyle="italic" fontSize={11} fill="#222">{s}</text>
          </g>
        );
      })}

      <Heat />
      <text transform="translate(10,482) rotate(-90)" fontFamily={FONT} fontSize={11} fill="#111" textAnchor="middle">functional annotation</text>
      <text x={419.5} y={849.5} fontFamily={FONT} fontSize={14.5} fill="#111" textAnchor="middle">strains</text>

      <text x={89} y={861} fontFamily={FONT} fontSize={12.4} fill="#111">normalised enrichment score</text>
      <defs>
        <linearGradient id="nesGrad" x1="0" x2="0" y1="1" y2="0">
          {nesStops.map((v, i) => <stop key={v} offset={(v - nesStops[0]) / (nesStops[nesStops.length - 1] - nesStops[0])} stopColor={nesColors[i]} />)}
        </linearGradient>
      </defs>
      <rect x={88.8} y={868.3} width={21} height={102.7} fill="url(#nesGrad)" />
      {nesTicks.map((t) => (
        <g key={t}>
          <line x1={88.8} x2={93} y1={barY(t)} y2={barY(t)} stroke="#fff" strokeWidth={0.5} />
          <line x1={105.6} x2={109.8} y1={barY(t)} y2={barY(t)} stroke="#fff" strokeWidth={0.5} />
          <text x={115.5} y={barY(t) + 3.6} fontFamily={FONT} fontSize={10} fill="#111">{String(t).replace("-", "\u2212")}</text>
        </g>
      ))}

      <text x={347} y={895.5} fontFamily={FONT} fontSize={12.4} fill="#111">p value</text>
      {pLegend.map((lab, i) => {
        const yy = 914 + i * 20.5;
        return (
          <g key={lab}>
            <path d={shapePath(0, [30, 24, 9][i])} transform={`translate(358,${yy})`} fill="#000" />
            <text x={375} y={yy + 3.6} fontFamily={FONT} fontSize={10} fill="#111">{lab}</text>
          </g>
        );
      })}

      <text x={524} y={866} fontFamily={FONT} fontSize={12.4} fill="#111">species</text>
      {speciesNames.map((s, i) => {
        const yy = 884 + i * 20.7;
        return (
          <g key={s}>
            <path d={shapePath(i, i === 3 ? 12 : 18)} fill="none" stroke="#222" strokeWidth={0.7} transform={`translate(534.3,${yy})${turn(i)}`} />
            <text x={542} y={yy + 3.4} fontFamily="Lato, sans-serif" fontStyle="italic" fontSize={10.8} fill="#222">{s}</text>
          </g>
        );
      })}
    </svg>
  );
}
